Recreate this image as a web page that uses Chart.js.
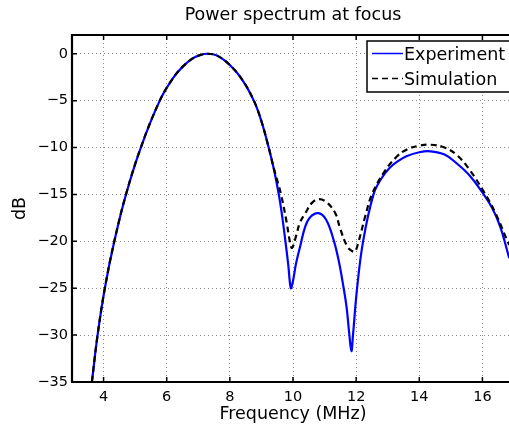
<!DOCTYPE html>
<html>
<head>
<meta charset="utf-8">
<script src="https://cdn.jsdelivr.net/npm/chart.js@4.4.0/dist/chart.umd.min.js"></script>
<style>
    html, body { margin: 0; padding: 0; background: #fff; overflow: hidden; }
    #wrap { width: 514px; height: 430px; }
</style>
</head>
<body>
<div id="wrap"><canvas id="spectrumChart" width="514" height="430"></canvas></div>
<script>
// --- Data ---
const expFreq = [3.63, 3.81, 4.04, 4.34, 4.71, 5.18, 5.78, 6.2, 6.5, 6.8, 7.05, 7.3, 7.6, 8.0, 8.4, 8.76, 9.0, 9.23, 9.4, 9.55,
    9.66, 9.76, 9.85, 9.93, 9.99, 10.1, 10.23, 10.39, 10.55, 10.81, 11.05, 11.29, 11.45, 11.6, 11.7, 11.78, 11.85, 11.9, 12.03,
    12.22, 12.55, 12.8, 13.05, 13.3, 13.61, 14.0, 14.35, 14.8, 15.19, 15.6, 15.98, 16.3, 16.56, 16.85];
const expDb = [-35, -30, -25, -20, -15, -10, -5, -2.6, -1.4, -0.55, -0.15, 0, -0.2, -1.2, -2.8, -5, -7.2, -10, -12.4, -15,
    -17.4, -20, -22.5, -25, -24.4, -22.3, -20.5, -18.4, -17.4, -17.0, -17.7, -19.9, -22.1, -24.9, -27.1, -29.8, -31.7, -30, -25,
    -20, -15, -13.3, -12.2, -11.5, -10.9, -10.5, -10.4, -10.75, -11.7, -13.0, -14.7, -16.4, -18.4, -21.8];

const simFreq = [3.63, 3.81, 4.04, 4.34, 4.71, 5.18, 5.78, 6.2, 6.5, 6.8, 7.05, 7.3, 7.6, 8.0, 8.4, 8.76, 9.0, 9.23, 9.4, 9.62,
    9.8, 9.9, 9.97, 10.1, 10.22, 10.39, 10.6, 10.81, 11.05, 11.34, 11.49, 11.71, 11.85, 11.96, 12.08, 12.29, 12.5, 12.87, 13.29,
    13.61, 14.0, 14.35, 14.8, 15.19, 15.6, 16.04, 16.4, 16.77, 16.85];
const simDb = [-35, -30, -25, -20, -15, -10, -5, -2.6, -1.4, -0.55, -0.15, 0, -0.2, -1.2, -2.8, -5, -7.2, -10, -12.3, -15,
    -18, -20, -20.7, -19.4, -18.0, -17.0, -15.9, -15.5, -15.8, -17.0, -18.6, -20.5, -21.0, -21.1, -20, -17.3, -15, -12.7, -10.95,
    -10.2, -9.8, -9.7, -10.0, -10.8, -12.4, -14.7, -16.9, -19.8, -20.4];

const xTicks = [4, 6, 8, 10, 12, 14, 16];
const yTicks = [0, -5, -10, -15, -20, -25, -30, -35];

const FONT = '"DejaVu Sans", "Liberation Sans", sans-serif';

function toPoints(xs, ys) {
    return xs.map((x, i) => ({ x: x, y: ys[i] }));
}

// title drawn over the plot area centre, like MATLAB does
const titlePlugin = {
    id: 'plotTitle',
    afterDraw(chart) {
        const { ctx, chartArea: a } = chart;
        ctx.save();
        ctx.fillStyle = '#000';
        ctx.font = '17.5px ' + FONT;
        ctx.textAlign = 'center';
        ctx.textBaseline = 'alphabetic';
        ctx.fillText('Power spectrum at focus', (a.left + a.right) / 2, 20);
        ctx.restore();
    }
};

// box round the axes + inward tick marks
const framePlugin = {
    id: 'axesFrame',
    afterDatasetsDraw(chart) {
        const { ctx, chartArea: a, scales: { x, y } } = chart;
        ctx.save();
        ctx.strokeStyle = '#000';
        ctx.lineWidth = 1.5;
        ctx.beginPath();
        xTicks.forEach(v => {
            const px = x.getPixelForValue(v);
            ctx.moveTo(px, a.bottom); ctx.lineTo(px, a.bottom - 5);
            ctx.moveTo(px, a.top); ctx.lineTo(px, a.top + 5);
        });
        yTicks.forEach(v => {
            const py = y.getPixelForValue(v);
            ctx.moveTo(a.left, py); ctx.lineTo(a.left + 5, py);
        });
        ctx.stroke();

        ctx.lineWidth = 2.2;
        ctx.beginPath();
        ctx.moveTo(a.left, a.top); ctx.lineTo(a.right, a.top);
        ctx.moveTo(a.left, a.top - 1); ctx.lineTo(a.left, a.bottom + 1);
        ctx.moveTo(a.left, a.bottom); ctx.lineTo(a.right, a.bottom);
        ctx.moveTo(a.right, a.top); ctx.lineTo(a.right, a.bottom);
        ctx.stroke();
        ctx.restore();
    }
};

// legend box in the top right corner
const legendPlugin = {
    id: 'boxLegend',
    afterDraw(chart) {
        const { ctx } = chart;
        const left = 367, top = 41, bottom = 92;
        ctx.save();
        ctx.fillStyle = '#fff';
        ctx.fillRect(left, top, 200, bottom - top);
        ctx.strokeStyle = '#000';
        ctx.lineWidth = 1.5;
        ctx.strokeRect(left, top, 200, bottom - top);

        const rows = [{ y: 53.5, base: 60 }, { y: 78.5, base: 85 }];
        chart.data.datasets.forEach((ds, i) => {
            const r = rows[i];
            ctx.strokeStyle = ds.borderColor;
            ctx.lineWidth = 1.5;
            ctx.setLineDash(ds.borderDash || []);
            ctx.beginPath();
            ctx.moveTo(372, r.y);
            ctx.lineTo(403, r.y);
            ctx.stroke();
            ctx.setLineDash([]);
            ctx.fillStyle = '#000';
            ctx.font = '17.5px ' + FONT;
            ctx.textAlign = 'left';
            ctx.textBaseline = 'alphabetic';
            ctx.fillText(ds.label, 404, r.base);
        });
        ctx.restore();
    }
};

const ctx = document.getElementById('spectrumChart');
const spectrumChart = new Chart(ctx, {
    type: 'line',
    data: {
        datasets: [
            {
                label: 'Experiment',
                data: toPoints(expFreq, expDb),
                borderColor: '#0000ff',
                borderWidth: 2.2,
                pointRadius: 0,
                tension: 0.4,
                order: 1
            },
            {
                label: 'Simulation',
                data: toPoints(simFreq, simDb),
                borderColor: '#000000',
                borderWidth: 2.2,
                borderDash: [6, 4],
                pointRadius: 0,
                tension: 0.4,
                order: 0
            }
        ]
    },
    options: {
        responsive: false,
        animation: false,
        layout: { padding: { top: 35, right: 0, left: 0, bottom: 0 } },
        plugins: {
            legend: { display: false },
            title: { display: false },
            tooltip: { enabled: false }
        },
        scales: {
            x: {
                type: 'linear',
                min: 3,
                max: 17,
                afterBuildTicks: s => { s.ticks = xTicks.map(v => ({ value: v })); },
                afterFit: s => { s.height = 48; },
                grid: { color: '#8c8c8c', lineWidth: 1, drawTicks: false },
                border: { display: false, dash: [1, 3] },
                ticks: {
                    color: '#000',
                    font: { family: FONT, size: 14.5 },
                    padding: 7,
                    maxRotation: 0,
                    autoSkip: false
                },
                title: {
                    display: true,
                    text: 'Frequency (MHz)',
                    color: '#000',
                    font: { family: FONT, size: 17.5 },
                    padding: { top: 0, bottom: 5 }
                }
            },
            y: {
                min: -35,
                max: 2,
                afterBuildTicks: s => { s.ticks = yTicks.map(v => ({ value: v })); },
                afterFit: s => { s.width = 72; },
                grid: { color: '#8c8c8c', lineWidth: 1, drawTicks: false },
                border: { display: false, dash: [1, 3] },
                ticks: {
                    color: '#000',
                    font: { family: FONT, size: 14.5 },
                    padding: 4,
                    callback: v => String(v).replace('-', '\u2212')
                },
                title: {
                    display: true,
                    text: 'dB',
                    color: '#000',
                    font: { family: FONT, size: 17.5 },
                    padding: { top: 10, bottom: 0 }
                }
            }
        }
    },
    plugins: [titlePlugin, framePlugin, legendPlugin]
});
</script>
</body>
</html>
